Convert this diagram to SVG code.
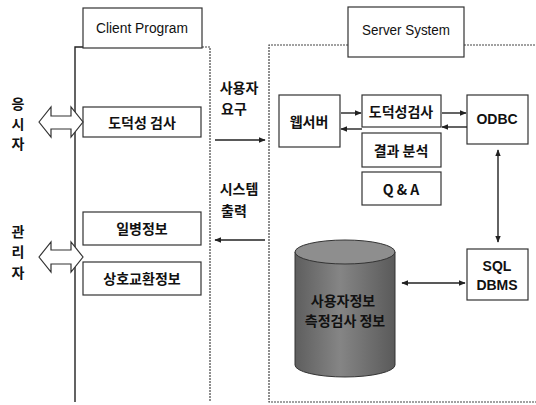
<svg xmlns="http://www.w3.org/2000/svg" width="536" height="405" viewBox="0 0 536 405">
<defs>
<marker id="ah" viewBox="0 0 10 10" refX="9" refY="5" markerWidth="5" markerHeight="5" orient="auto-start-reverse"><path d="M0,1 L10,5 L0,9 z" fill="#222"/></marker>
<linearGradient id="cyl" x1="0" x2="1" y1="0" y2="0"><stop offset="0" stop-color="#5e5e5e"/><stop offset="0.45" stop-color="#858585"/><stop offset="1" stop-color="#5a5a5a"/></linearGradient>
<style>
.box{fill:#fff;stroke:#333;stroke-width:1.2}
.dot{fill:none;stroke:#444;stroke-width:1.2;stroke-dasharray:2 1}
.ln{fill:none;stroke:#222;stroke-width:1.4}
.t{font-family:"Liberation Sans","Noto Sans CJK KR",sans-serif;font-size:14px;fill:#111;text-anchor:middle;dominant-baseline:central}
.k{font-family:"Noto Sans CJK KR","Liberation Sans",sans-serif;font-weight:bold;font-size:14px;fill:#111;text-anchor:middle;dominant-baseline:central}
.hollow{fill:#fff;stroke:#333;stroke-width:1.2}
.c{stroke:#222;stroke-width:1.4;fill:none;marker-end:url(#ah)}
.cc{stroke:#222;stroke-width:1.4;fill:none;marker-end:url(#ah);marker-start:url(#ah)}
</style>
</defs>
<rect width="536" height="405" fill="#fff"/>

<g id="client-container">
<path class="ln" d="M83,47 H75 V402"/>
<path class="dot" d="M202,47 H210 V402"/>
</g>
<g id="server-container">
<path class="dot" d="M348,45 H269 V402 H536"/>
<path class="dot" d="M464,45 H536"/>
</g>

<g id="client-program"><rect class="box" x="83" y="8" width="119" height="40"/><text class="t" x="142" y="28" font-size="13.5" textLength="92" lengthAdjust="spacingAndGlyphs">Client Program</text></g>
<g id="server-system"><rect class="box" x="348" y="7" width="116" height="50"/><text class="t" x="406" y="30" textLength="88" lengthAdjust="spacingAndGlyphs">Server System</text></g>

<g id="client-check"><rect class="box" x="83" y="107" width="118" height="30"/><text class="k" x="142" y="122">도덕성 검사</text></g>
<g id="general-info"><rect class="box" x="83" y="212" width="118" height="33"/><text class="k" x="142" y="228">일병정보</text></g>
<g id="exchange-info"><rect class="box" x="83" y="262" width="118" height="33"/><text class="k" x="142" y="278">상호교환정보</text></g>

<g id="examinee">
<polygon class="hollow" points="39,122 51,107 51,116 71,116 71,107 83,122 71,137 71,129 51,129 51,137"/>
<text class="k" x="18" y="103">응</text><text class="k" x="18" y="123">시</text><text class="k" x="18" y="143">자</text>
</g>
<g id="admin">
<polygon class="hollow" points="39,257 51,242 51,250 71,250 71,242 83,257 71,272 71,264 51,264 51,272"/>
<text class="k" x="18" y="231">관</text><text class="k" x="18" y="251">리</text><text class="k" x="18" y="272">자</text>
</g>

<g id="labels">
<text class="k" x="239" y="87">사용자</text>
<text class="k" x="234" y="108">요구</text>
<text class="k" x="239" y="188">시스템</text>
<text class="k" x="234" y="210">출력</text>
</g>

<g id="webserver"><rect class="box" x="279" y="95" width="61" height="52"/><text class="k" x="309" y="121">웹서버</text></g>
<g id="server-check"><rect class="box" x="362" y="95" width="79" height="32"/><text class="k" x="401" y="111">도덕성검사</text></g>
<g id="analysis"><rect class="box" x="362" y="133" width="79" height="34"/><text class="k" x="401" y="150">결과 분석</text></g>
<g id="qa"><rect class="box" x="362" y="172" width="79" height="33"/><text class="k" x="401" y="189">Q &amp; A</text></g>
<g id="odbc"><rect class="box" x="467" y="95" width="61" height="49"/><text class="t" x="497" y="119" font-weight="bold">ODBC</text></g>
<g id="sql-dbms"><rect class="box" x="467" y="249" width="61" height="51"/><text class="t" x="497" y="266" font-weight="bold">SQL</text><text class="t" x="497" y="285" font-weight="bold">DBMS</text></g>

<g id="database">
<path d="M295,252 V365 A50,12 0 0 0 395,365 V252 Z" fill="url(#cyl)" stroke="#333" stroke-width="1"/>
<ellipse cx="345" cy="252" rx="50" ry="12" fill="#8e8e8e" stroke="#333" stroke-width="1"/>
<text class="k" x="343" y="300" font-size="13" fill="#2a2a2a">사용자정보</text>
<text class="k" x="345" y="320" font-size="13" fill="#2a2a2a">측정검사 정보</text>
</g>

<g id="connectors">
<line class="c" x1="215" y1="140" x2="265" y2="140"/>
<line class="c" x1="265" y1="240" x2="215" y2="240"/>
<line class="c" x1="341" y1="113" x2="361" y2="113"/>
<line class="c" x1="362" y1="129" x2="341" y2="129"/>
<line class="c" x1="442" y1="113" x2="466" y2="113"/>
<line class="c" x1="467" y1="127" x2="442" y2="127"/>
<line class="cc" x1="498" y1="150" x2="498" y2="242"/>
<line class="cc" x1="402" y1="283" x2="465" y2="283"/>
</g>
</svg>
